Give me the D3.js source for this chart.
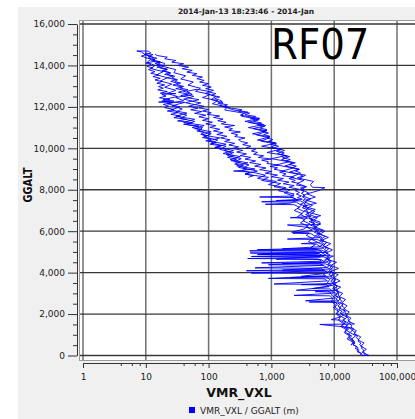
<!DOCTYPE html>
<html>
<head>
<meta charset="utf-8">
<script src="https://cdn.jsdelivr.net/npm/d3@7"></script>
<style>
  body { margin: 0; background: #fff; }
  svg { display: block; font-family: "DejaVu Sans", sans-serif; }
</style>
</head>
<body>
<svg id="chart" width="415" height="419"></svg>
<script>
/* ---------------- DATA ---------------- */
const chartTitle = "2014-Jan-13 18:23:46 - 2014-Jan";
const flightLabel = "RF07";
const xTitle = "VMR_VXL";
const yTitle = "GGALT";
const legendLabel = "VMR_VXL / GGALT (m)";

const xTicks = [1, 10, 100, 1000, 10000, 100000];
const xMinorSteps = [4, 6, 8];
const yTicks = [0, 2000, 4000, 6000, 8000, 10000, 12000, 14000, 16000];
const yMinorStep = 500;

// each leg: [VMR_VXL, GGALT (m)]
const climbOut = [
  [36000,0],[28000,150],[32500,300],[26500,450],[30000,600],[24000,750],[26500,900],[20700,1050],
  [22500,1200],[18000,1350],[5900,1500],[21000,1520],[16700,1650],[18500,1800],[15200,1950],[17400,2100],
  [14300,2250],[16000,2400],[13200,2550],[15200,2700],[12000,2850],[13700,3000],[10400,3150],[12700,3300],
  [9500,3450],[12400,3600],[10000,3750],[11600,3900],[8700,4050],[11700,4200],[8900,4350],[10900,4500],
  [7500,4650],[9700,4800],[460,4950],[7800,4970],[9400,5100],[7200,5250],[8800,5400],[6200,5550],
  [8100,5700],[5900,5850],[7100,6000],[4700,6150],[1800,6300],[6000,6320],[5900,6450],[4100,6600],
  [6100,6750],[4000,6900],[5000,7050],[3200,7200],[5200,7350],[3500,7500],[5000,7650],[3700,7800],
  [5500,7950],[7100,8100],[4500,8120],[4200,8250],[4700,8400],[2800,8550],[3500,8700],[1950,8850],
  [2750,9000],[1650,9150],[2400,9300],[1450,9450],[1950,9600],[1250,9750],[1620,9900],[1000,10050],
  [1200,10200],[680,10350],[930,10500],[580,10650],[810,10800],[510,10950],[810,11100],[430,11250],
  [610,11400],[335,11550],[360,11700],[180,11850],[200,12000],[115,12150],[140,12300],[80,12450],
  [107,12600],[62,12750],[74,12900],[47,13050],[57,13200],[36,13350],[43,13500],[28,13650],
  [30,13800],[19,13950],[20,14100],[13,14250],[13,14400],[9.5,14550],[8.5,14650],[7.2,14700],[11,14690]
];

const firstDescent = [
  [11,14690],[12,14600],[8.5,14450],[12,14300],[10.5,14150],[14,14000],[12,13850],[19,13700],
  [15,13550],[22,13400],[17,13250],[26,13100],[20,12950],[30,12800],[22,12650],[32,12500],
  [19,12350],[28,12280],[16,12230],[42,12220],[26,12050],[38,11900],[30,11750],[45,11600],
  [35,11450],[60,11300],[45,11150],[80,11000],[70,10850],[110,10700],[85,10550],[140,10400],
  [110,10250],[190,10100],[150,9950],[250,9800],[200,9650],[330,9500],[260,9350],[440,9200],
  [350,9050],[600,8900],[380,8750],[900,8600],[700,8450],[1400,8300],[1100,8150],[2000,8000],
  [1600,7850],[2300,7700],[650,7650],[2200,7620],[2600,7500],[2000,7350],[800,7300],[2300,7280],
  [2800,7150],[2300,7000],[3100,6850],[2600,6700],[3400,6550],[2900,6400],[3800,6250],[3300,6100],
  [2100,5950],[4000,5920],[3600,5800],[4500,5650],[3900,5500],[5000,5350],[4200,5200],[5500,5100],
  [450,5050],[4800,5030],[5800,4920],[600,4870],[5200,4850],[6000,4750],[420,4680],[5500,4660],
  [6300,4550],[700,4470],[5800,4450],[6700,4350],[550,4230],[6100,4210],[7000,4100],[480,3980],
  [6500,3960],[7300,3850],[900,3720],[6900,3700],[7800,3600],[1100,3450],[7400,3430],[8300,3320],
  [2500,3150],[7900,3130],[9000,3000],[2300,2900],[8600,2880],[9500,2750],[9000,2600],[10500,2450],
  [9700,2300],[11500,2150],[10700,2000],[12500,1850],[11700,1700],[14000,1550],[12800,1400],[15500,1250],
  [14500,1100],[17500,950],[16000,800],[20000,650],[18500,500]
];

const secondClimb = [
  [18500,500],[21000,650],[19000,800],[22000,950],[18000,1100],[19500,1250],[15500,1400],[17000,1550],
  [14000,1700],[16000,1850],[13000,2000],[14800,2150],[12000,2300],[13800,2450],[11300,2600],[12700,2750],
  [10500,2900],[12000,3050],[9800,3200],[11200,3350],[9300,3500],[10600,3650],[8800,3800],[10000,3950],
  [8300,4100],[9600,4250],[7900,4400],[9000,4550],[7500,4700],[8600,4850],[7100,5000],[8200,5150],
  [6600,5300],[7600,5450],[6100,5600],[7200,5750],[5500,5900],[6700,6050],[5000,6200],[6000,6350],
  [4500,6500],[5400,6650],[4100,6800],[4900,6950],[3700,7100],[4500,7250],[3400,7400],[4200,7550],
  [3200,7700],[3900,7850],[3000,8000],[3600,8150],[2600,8300],[3300,8450],[2000,8600],[2700,8750],
  [1500,8900],[2200,9050],[1200,9200],[1900,9350],[1000,9500],[1700,9650],[850,9800],[1400,9950],
  [700,10100],[1200,10250],[600,10400],[950,10550],[500,10700],[850,10850],[430,11000],[750,11150],
  [380,11300],[650,11450],[320,11600],[420,11750],[250,11850],[200,11950],[150,12050],[170,12200],
  [110,12350],[130,12500],[90,12650],[100,12750],[65,12850]
];

const finalDescent = [
  [65,12850],[45,12750],[55,12600],[30,12450],[40,12300],[22,12150],[35,12000],[25,11850],
  [45,11700],[30,11550],[60,11400],[40,11250],[85,11100],[60,10950],[110,10800],[80,10650],
  [150,10500],[100,10350],[190,10200],[130,10050],[250,9900],[170,9750],[320,9600],[220,9450],
  [420,9300],[280,9150],[550,9000],[250,8900],[500,8850],[800,8700],[600,8550],[1200,8400],
  [900,8250],[1700,8100],[1300,7950],[2300,7800],[2000,7650],[2700,7500],[700,7420],[2500,7400],
  [3000,7250],[2600,7100],[3300,6950],[2900,6800],[3700,6650],[3200,6500],[4100,6350],[3600,6200],
  [4500,6050],[2200,5900],[4300,5880],[5000,5750],[4400,5600],[5600,5450],[3000,5400],[5200,5380],
  [6000,5250],[1500,5150],[5400,5130],[6400,5000],[700,4920],[5800,4900],[6800,4800],[1200,4650],
  [6200,4630],[7200,4500],[900,4380],[6600,4360],[7600,4250],[1500,4120],[7000,4100],[8000,3980],
  [3000,3820],[7400,3800],[8500,3670],[7800,3520],[9200,3380],[4500,3230],[8600,3210],[9800,3070],
  [9000,2920],[10500,2780],[3500,2640],[9800,2620],[11200,2480],[10300,2330],[12000,2180],[11200,2030],
  [13000,1880],[9000,1730],[12500,1710],[14500,1580],[13500,1430],[16000,1280],[15000,1130],[18000,980],
  [17000,830],[21000,680],[20000,530],[24000,380],[23000,230],[27000,110],[28000,0],[35000,0]
];

const upperClimb = [
  [3300,8000],[2900,8080],[3600,8150],[2500,8230],[2700,8310],[2100,8380],[2400,8450],[1900,8540],
  [2300,8600],[1500,8680],[1700,8770],[1350,8850],[1600,8900],[1100,8990],[1250,9060],[950,9130],
  [1300,9190],[850,9270],[900,9350],[700,9430],[1000,9480],[620,9560],[750,9640],[520,9710],
  [600,9800],[480,9870],[560,9950],[400,10030],[470,10100],[350,10180],[420,10260],[330,10330],
  [300,10420],[380,10500],[260,10570],[290,10650],[230,10730],[320,10790],[210,10870],[240,10950],
  [180,11030],[260,11100],[160,11180],[190,11260],[140,11330],[170,11410],[120,11490],[150,11560],
  [95,11640],[110,11720],[80,11800],[100,11870],[70,11950],[85,12030],[60,12110],[75,12190],
  [55,12270],[70,12350],[48,12430],[58,12510],[44,12590],[50,12670],[40,12750],[47,12830],
  [35,12910],[40,12990],[31,13070],[36,13150],[29,13230],[32,13310],[26,13400],[29,13480],
  [22,13560],[25,13640],[19,13720],[22,13800],[17,13880],[19,13960],[15,14040],[17,14120],
  [13,14200],[14,14280],[11,14360],[12,14440],[9.5,14520],[10,14600]
];

const upperDescent = [
  [10,14600],[13,14520],[11,14430],[15,14350],[12,14260],[17,14180],[14,14090],[19,14000],
  [15,13920],[22,13830],[18,13750],[24,13660],[20,13570],[27,13490],[22,13400],[30,13310],
  [25,13230],[33,13140],[27,13050],[38,12960],[30,12880],[42,12800],[33,12710],[46,12620],
  [36,12540],[50,12450],[40,12370],[55,12280],[43,12200],[60,12110],[48,12030],[68,11940],
  [52,11860],[78,11770],[60,11690],[90,11600],[70,11520],[100,11430],[80,11350],[115,11260],
  [90,11180],[130,11090],[105,11010],[150,10920],[120,10840],[170,10750],[135,10670],[195,10580],
  [155,10500],[220,10410],[180,10330],[260,10240],[210,10160],[300,10070],[240,9990],[350,9900],
  [280,9820],[400,9730],[320,9650],[470,9560],[380,9480],[560,9390],[450,9310],[680,9220],
  [540,9140],[820,9050],[650,8970],[1000,8880],[800,8800],[1250,8710],[1000,8630],[1550,8540],
  [1250,8460],[1900,8370],[1550,8290],[2300,8200],[1900,8120],[2700,8030],[2400,7950]
];

const leftEdgeDescent = [
  [14,14200],[10,14120],[12,14050],[10.5,13950],[13,13880],[11,13800],[14,13700],[12,13620],
  [16,13540],[13,13460],[17,13380],[14,13300],[18,13220],[15,13140],[20,13060],[16,12980],
  [19,12900],[15.5,12820],[22,12740],[17,12660],[30,12640],[18,12600],[21,12520],[16.5,12440],
  [24,12360],[18,12280],[26,12200],[19,12120],[23,12040],[20,11960],[28,11880],[22,11800],
  [32,11720],[25,11640],[36,11560],[28,11480],[45,11400],[32,11320],[55,11240],[40,11160],
  [70,11080],[55,11000],[78,10920],[65,10840],[85,10760],[75,10680],[95,10600],[80,10520],
  [110,10440],[90,10360],[130,10280],[105,10200],[160,10120],[125,10040],[190,9960],[180,9880],
  [230,9800],[190,9720],[250,9640],[200,9560],[280,9480],[230,9400],[320,9320],[260,9240],
  [360,9160],[300,9080],[400,9000],[340,8920],[450,8840],[380,8760],[520,8680],[430,8600]
];

const rightEdgeClimb = [
  [3000,8500],[2600,8580],[3200,8660],[2800,8740],[2900,8820],[2400,8900],[2800,8980],[2100,9060],
  [2500,9140],[1900,9220],[2200,9300],[1700,9380],[2000,9460],[1500,9540],[1800,9620],[1400,9700],
  [1600,9780],[1200,9860],[1450,9940],[1100,10020],[1300,10100],[1000,10180],[1150,10260],[900,10340],
  [1050,10420],[850,10500],[950,10580],[750,10660],[900,10740],[700,10820],[850,10900],[650,10980],
  [780,11060],[600,11140],[700,11220],[520,11300],[640,11380],[460,11460],[560,11540],[380,11620],
  [450,11700],[300,11780],[340,11860],[230,11940],[170,12020],[200,12100],[140,12180],[165,12260],
  [150,12330],[125,12400],[150,12480],[110,12560],[130,12640],[100,12720],[120,12800],[90,12880],
  [110,12960],[80,13040],[100,13120],[72,13200],[85,13280],[65,13360],[80,13440],[55,13520],
  [65,13600],[45,13680],[55,13760],[38,13840],[48,13920],[32,14000],[40,14080],[26,14160],
  [30,14240],[20,14320],[22,14400],[15,14480],[14,14560]
];

const lowerClimb = [
  [30000,0],[31500,90],[28500,180],[29500,260],[27000,350],[28000,430],[25500,520],[26500,600],
  [24000,690],[24500,770],[22500,860],[23500,940],[21000,1030],[21500,1110],[19500,1200],[20500,1280],
  [18500,1370],[19000,1450],[17500,1540],[18000,1620],[16500,1710],[17000,1790],[15500,1880],[16200,1960],
  [14800,2050],[15300,2130],[14000,2220],[14600,2300],[13300,2390],[13800,2470],[12600,2560],[13200,2640],
  [12000,2730],[12500,2810],[11500,2900],[11900,2980],[11000,3070],[11400,3150],[10600,3240],[11000,3320],
  [10300,3410],[10700,3490],[9900,3580],[10300,3660],[9600,3750],[9900,3830],[9300,3920],[9600,4000],
  [8900,4090],[9300,4170],[8600,4260],[9000,4340],[8300,4430],[8700,4510],[8000,4600],[8400,4680],
  [7700,4770],[8100,4850],[7400,4940],[7800,5020],[7000,5110],[7500,5190],[6700,5280],[7100,5360],
  [6300,5450],[6800,5530],[6000,5620],[6400,5700],[5600,5790],[6000,5870],[5300,5960],[5600,6040],
  [4900,6130],[5300,6210],[4600,6300],[4900,6380],[4300,6470],[4600,6550],[4000,6640],[4300,6720],
  [3800,6810],[4000,6890],[3600,6980],[3900,7060],[3500,7150],[3700,7230],[3300,7320],[3600,7400],
  [3200,7490],[3500,7570],[3100,7660],[3400,7740],[3000,7830],[3300,7910],[2900,8000]
];

const lowerDescent = [
  [2400,7950],[2800,7870],[2500,7790],[3000,7700],[2600,7620],[3100,7540],[1200,7480],[2900,7460],
  [3300,7380],[2900,7300],[3500,7210],[3100,7130],[3700,7050],[3300,6970],[3900,6880],[3500,6800],
  [4200,6710],[2000,6650],[3900,6630],[4500,6540],[4000,6460],[4800,6370],[4200,6290],[5100,6200],
  [4500,6120],[5400,6030],[4800,5950],[5700,5860],[5000,5780],[6000,5690],[1800,5620],[5300,5600],
  [6300,5520],[5600,5440],[6600,5350],[5900,5270],[6900,5180],[600,5110],[6200,5090],[7200,5010],
  [6500,4930],[7500,4840],[480,4780],[6800,4760],[7800,4680],[7000,4600],[8100,4510],[1500,4440],
  [7300,4420],[8400,4340],[7600,4250],[8700,4170],[400,4090],[7900,4070],[9000,4000],[8200,3920],
  [9300,3830],[2000,3760],[8500,3740],[9600,3660],[8800,3580],[9900,3490],[3000,3420],[9100,3400],
  [10200,3320],[9400,3240],[10500,3150],[5000,3080],[9800,3060],[11000,2980],[10200,2900],[11400,2810],
  [10600,2730],[11800,2640],[4000,2580],[11000,2560],[12300,2470],[11400,2390],[12800,2300],[11900,2220],
  [13400,2130],[12400,2050],[14000,1960],[13000,1880],[14700,1790],[13600,1710],[15400,1620],[14300,1540],
  [16200,1450],[15000,1370],[17000,1280],[15800,1200],[18000,1110],[16700,1030],[19000,940],[17700,860],
  [20000,770],[18800,690],[21500,600],[20000,520],[23000,430],[21500,350],[25000,260],[23500,180],
  [27000,90],[26000,0]
];

const legs = [climbOut, firstDescent, secondClimb, finalDescent,
  upperClimb, upperDescent, leftEdgeDescent, rightEdgeClimb, lowerClimb, lowerDescent];

/* ---------------- SVG SETUP ---------------- */
const svg = d3.select("#chart");

const x = d3.scaleLog().domain([1, 100000]).range([83, 397]);
const y = d3.scaleLinear().domain([0, 16000]).range([355.5, 24]);

/* ---------------- BACKGROUND ---------------- */
svg.append("rect")
  .attr("x", 18).attr("y", 7).attr("width", 397).attr("height", 412)
  .attr("fill", "#f0f0f0");

svg.append("rect")
  .attr("x", 79.5).attr("y", 20.5).attr("width", 340).attr("height", 340)
  .attr("fill", "#fff")
  .attr("stroke", "#9a9a9a");

/* ---------------- GRID ---------------- */
svg.append("g").selectAll("line")
  .data(xTicks)
  .enter()
  .append("line")
  .attr("x1", d => x(d)).attr("x2", d => x(d))
  .attr("y1", 21).attr("y2", 360)
  .attr("stroke", "#707070")
  .attr("stroke-width", 1.5);

svg.append("g").selectAll("line")
  .data(yTicks)
  .enter()
  .append("line")
  .attr("x1", 80).attr("x2", 415)
  .attr("y1", d => y(d)).attr("y2", d => y(d))
  .attr("stroke", "#383838")
  .attr("stroke-width", 1.3);

/* ---------------- DATA LINE ---------------- */
svg.append("clipPath").attr("id", "plot-clip")
  .append("rect").attr("x", 80).attr("y", 21).attr("width", 335).attr("height", 339);

const line = d3.line()
  .x(d => x(d[0]))
  .y(d => y(d[1]));

svg.append("g")
  .attr("clip-path", "url(#plot-clip)")
  .selectAll("path")
  .data(legs)
  .enter()
  .append("path")
  .attr("d", line)
  .attr("fill", "none")
  .attr("stroke", "#0000ff")
  .attr("stroke-width", 0.9)
  .attr("stroke-linejoin", "round");

/* ---------------- AXES ---------------- */
const yMinor = d3.range(0, 16001, yMinorStep).filter(v => v % 2000 !== 0);

svg.append("g")
  .attr("transform", "translate(77,0)")
  .call(d3.axisLeft(y).tickValues(yTicks).tickSize(9).tickSizeOuter(0)
    .tickPadding(3).tickFormat(d3.format(",")));

svg.append("g")
  .attr("transform", "translate(77,0)")
  .call(d3.axisLeft(y).tickValues(yMinor).tickSize(4).tickFormat(""))
  .call(g => g.select(".domain").remove());

const xMinor = xTicks.slice(0, -1).flatMap(d => xMinorSteps.map(s => d * s));

svg.append("g")
  .attr("transform", "translate(0,363)")
  .call(d3.axisBottom(x).tickValues(xTicks).tickSize(5).tickSizeOuter(0)
    .tickPadding(6).tickFormat(d3.format(",")));

svg.append("g")
  .attr("transform", "translate(0,363)")
  .call(d3.axisBottom(x).tickValues(xMinor).tickSize(3).tickFormat(""))
  .call(g => g.select(".domain").remove());

svg.selectAll(".tick text")
  .attr("font-family", "DejaVu Sans")
  .attr("font-size", 9)
  .attr("fill", "#222");
svg.selectAll(".domain, .tick line").attr("stroke", "#333");

/* ---------------- TEXT ---------------- */
svg.append("text")
  .attr("x", 246).attr("y", 14)
  .attr("text-anchor", "middle")
  .attr("font-size", 7.5).attr("font-weight", "bold")
  .attr("fill", "#222")
  .text(chartTitle);

svg.append("text")
  .attr("x", 271).attr("y", 59)
  .attr("font-family", "DejaVu Sans Condensed")
  .attr("font-stretch", "condensed")
  .attr("font-size", 43)
  .attr("fill", "#000")
  .text(flightLabel);

svg.append("text")
  .attr("x", 239).attr("y", 397)
  .attr("text-anchor", "middle")
  .attr("font-size", 12.5).attr("font-weight", "bold")
  .attr("fill", "#111")
  .text(xTitle);

svg.append("text")
  .attr("transform", "translate(32,185) rotate(-90)")
  .attr("text-anchor", "middle")
  .attr("font-size", 12.5).attr("font-weight", "bold")
  .attr("textLength", 35).attr("lengthAdjust", "spacingAndGlyphs")
  .attr("fill", "#111")
  .text(yTitle);

/* ---------------- LEGEND ---------------- */
svg.append("rect")
  .attr("x", 189).attr("y", 407).attr("width", 6).attr("height", 6)
  .attr("fill", "#0000ff");

svg.append("text")
  .attr("x", 200).attr("y", 414)
  .attr("font-size", 9)
  .attr("fill", "#222")
  .text(legendLabel);
</script>
</body>
</html>
